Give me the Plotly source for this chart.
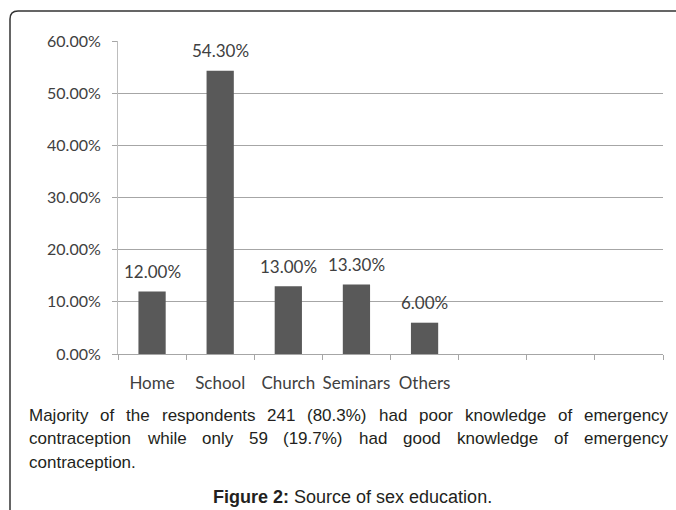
import plotly.graph_objects as go

# ---- data ----
categories = ["Home", "School", "Church", "Seminars", "Others", " ", "  ", "   "]
values = [0.12, 0.543, 0.13, 0.133, 0.06, None, None, None]
value_labels = ["12.00%", "54.30%", "13.00%", "13.30%", "6.00%"]
y_ticks = [0, 0.1, 0.2, 0.3, 0.4, 0.5, 0.6]

paragraph_lines = [
    "Majority of the respondents 241 (80.3%) had poor knowledge of emergency",
    "contraception while only 59 (19.7%) had good knowledge of emergency",
    "contraception.",
]
caption_bold = "Figure 2:"
caption_rest = "Source of sex education."

# ---- layout geometry (pixels) ----
W, H = 676, 510
L, R, T, B = 118, 663, 41, 354


def px(x):
    return (x - L) / (R - L)


def py(y):
    return (B - y) / (B - T)


# Arial (Liberation Sans) advance widths /1000 for justification
AW = {c: 556 for c in "0123456789abdeghnopqu"}
AW.update({"c": 500, "k": 500, "s": 500, "v": 500, "x": 500, "y": 500, "z": 500,
           "f": 278, "t": 278, "i": 222, "j": 222, "l": 222, "r": 333, "m": 833,
           "w": 722, "M": 833, "(": 333, ")": 333, "%": 889, ".": 278, " ": 278})


def wwidth(word, size):
    return sum(AW.get(ch, 556) for ch in word) * size / 1000.0


FS = 17
left_x, right_x = 27, 666
line_y = [415, 438, 462]

annotations = []
for i, line in enumerate(paragraph_lines):
    words = line.split(" ")
    if i < len(paragraph_lines) - 1:
        total = sum(wwidth(w, FS) for w in words)
        gap = (right_x - left_x - total) / (len(words) - 1)
    else:
        gap = wwidth(" ", FS)
    x = left_x
    for w in words:
        annotations.append(dict(
            x=px(x), y=py(line_y[i]), xref="paper", yref="paper",
            text=w, showarrow=False, xanchor="left", yanchor="middle",
            font=dict(family="Liberation Sans, Arial", size=FS, color="#231f20"),
        ))
        x += wwidth(w, FS) + gap

annotations.append(dict(
    x=px(352), y=py(497), xref="paper", yref="paper",
    text=f"<b>{caption_bold}</b> {caption_rest}", showarrow=False,
    xanchor="center", yanchor="middle",
    font=dict(family="Liberation Sans, Arial", size=18, color="#231f20"),
))

# value labels above bars
for c, v, t in zip(categories, values, value_labels):
    annotations.append(dict(
        x=c, y=v, xref="x", yref="y", text=t, showarrow=False,
        yanchor="middle", yshift=20,
        font=dict(family="Lato", size=17, color="#404040"),
    ))

fig = go.Figure(go.Bar(
    x=categories, y=values, marker=dict(color="#595959", line=dict(width=0)),
    hoverinfo="skip",
))

border_path = (f"M {px(10)},{py(512)} L {px(10)},{py(19)} "
               f"Q {px(10)},{py(11)} {px(18)},{py(11)} L {px(678)},{py(11)}")

fig.update_layout(
    width=W, height=H,
    margin=dict(l=L, r=W - R, t=T, b=H - B, pad=0),
    plot_bgcolor="white", paper_bgcolor="white",
    showlegend=False, bargap=0.6,
    annotations=annotations,
    shapes=[dict(type="path", path=border_path, xref="paper", yref="paper",
                 line=dict(color="#333333", width=1.5))],
    xaxis=dict(
        type="category", categoryorder="array", categoryarray=categories,
        range=[-0.5, 7.5], showgrid=False, zeroline=False,
        showline=True, linecolor="#a6a6a6", linewidth=1,
        ticks="outside", ticklen=5, tickcolor="#a6a6a6", tickson="boundaries",
        tickangle=0, ticklabelstandoff=14,
        tickfont=dict(family="Lato", size=17, color="#404040"),
    ),
    yaxis=dict(
        range=[0, 0.6], tickvals=y_ticks, tickformat=".2%",
        showgrid=True, gridcolor="#a6a6a6", gridwidth=1, zeroline=False,
        showline=True, linecolor="#bdbdbd", linewidth=1,
        ticks="outside", ticklen=5, tickcolor="#a6a6a6",
        ticklabelstandoff=8,
        tickfont=dict(family="Lato", size=16, color="#404040"),
    ),
)

fig.write_html(
    "out.html",
    config={"displayModeBar": False},
    post_script="document.body.style.margin='0';document.body.style.padding='0';"
                "document.body.style.overflow='hidden';",
)
